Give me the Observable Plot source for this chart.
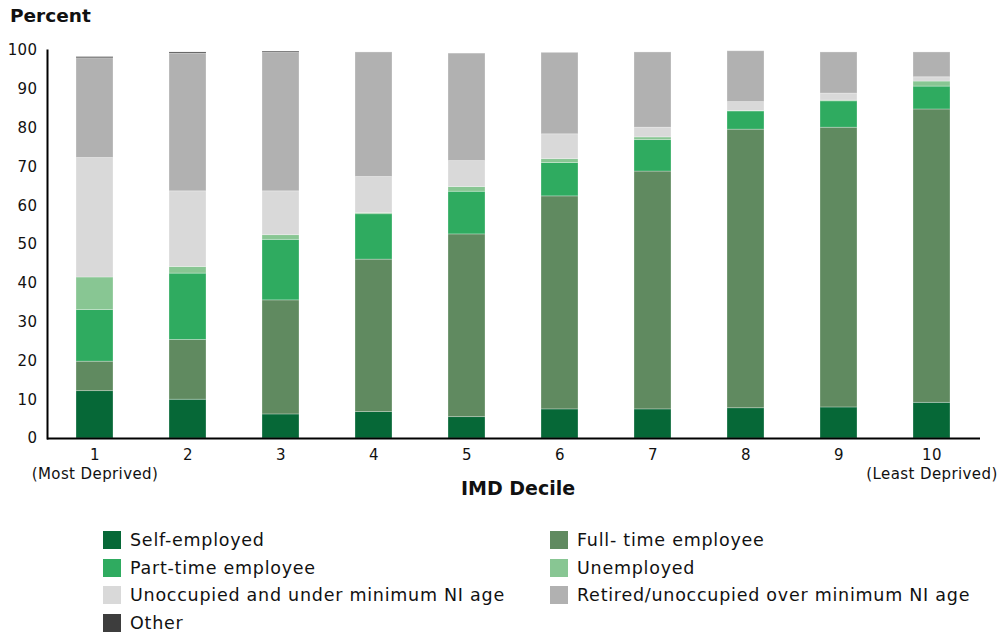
<!DOCTYPE html>
<html>
<head>
<meta charset="utf-8">
<script src="https://cdn.jsdelivr.net/npm/d3@7"></script>
<script src="https://cdn.jsdelivr.net/npm/@observablehq/plot@0.6"></script>
<style>
  html, body { margin: 0; padding: 0; background: #fff; }
  body { width: 1007px; height: 634px; position: relative; font-family: "DejaVu Sans", sans-serif; color: #111; overflow: hidden; }
  #title { position: absolute; left: 10px; top: 0; height: 32px; line-height: 32px; font-size: 18.5px; font-weight: bold; }
  #chart { position: absolute; left: 0; top: 32px; }
  #xlabel { position: absolute; left: 518px; top: 477px; transform: translateX(-50%); font-size: 19px; font-weight: bold; white-space: nowrap; }
  .leg { position: absolute; display: flex; align-items: center; font-size: 17.5px; letter-spacing: 0.75px; white-space: nowrap; }
  .sw { width: 18px; height: 18px; margin-right: 9px; flex: none; }
</style>
</head>
<body>
<div id="title">Percent</div>
<div id="chart"></div>
<div id="xlabel">IMD Decile</div>
<div id="legend"></div>
<script>
const deciles = ["1", "2", "3", "4", "5", "6", "7", "8", "9", "10"];
const xTickLabels = ["1\n(Most Deprived)", "2", "3", "4", "5", "6", "7", "8", "9", "10\n(Least Deprived)"];
const yTicks = [0, 10, 20, 30, 40, 50, 60, 70, 80, 90, 100];

const seriesNames = [
  "Self-employed",
  "Full- time employee",
  "Part-time employee",
  "Unemployed",
  "Unoccupied and under minimum NI age",
  "Retired/unoccupied over minimum NI age",
  "Other"
];
const seriesColors = ["#066837", "#608a60", "#2fab60", "#88c693", "#d9d9d9", "#b1b1b1", "#3d3d3d"];

const selfEmployed = [12.2, 10.0, 6.2, 6.8, 5.5, 7.5, 7.5, 7.8, 8.0, 9.2];
const fullTime     = [7.6, 15.4, 29.4, 39.3, 47.1, 54.9, 61.3, 71.8, 72.1, 75.6];
const partTime     = [13.3, 17.1, 15.6, 11.7, 11.0, 8.6, 8.1, 4.7, 6.8, 5.9];
const unemployed   = [8.4, 1.7, 1.2, 0.3, 1.2, 1.0, 0.7, 0.1, 0.2, 1.3];
const underNIAge   = [30.8, 19.5, 11.3, 9.3, 6.7, 6.4, 2.5, 2.3, 1.8, 1.1];
const retiredOver  = [25.7, 35.5, 35.7, 32.1, 27.7, 21.0, 19.4, 13.1, 10.6, 6.4];
const other        = [0.3, 0.3, 0.3, 0, 0, 0, 0, 0, 0, 0];

const seriesValues = [selfEmployed, fullTime, partTime, unemployed, underNIAge, retiredOver, other];

const table = [];
deciles.forEach((d, i) => {
  seriesNames.forEach((s, j) => {
    table.push({decile: d, series: s, value: seriesValues[j][i]});
  });
});

const tickMap = new Map(deciles.map((d, i) => [d, xTickLabels[i]]));

const plot = Plot.plot({
  width: 1007,
  height: 473,
  marginTop: 18,
  marginBottom: 67,
  marginLeft: 47,
  marginRight: 27,
  style: {fontFamily: "DejaVu Sans, sans-serif", fontSize: "15px", letterSpacing: "0.4px", color: "#111", background: "transparent"},
  x: {domain: deciles, paddingInner: 0.6, paddingOuter: 0.3, label: null},
  y: {domain: [0, 100], label: null},
  color: {domain: seriesNames, range: seriesColors},
  marks: [
    Plot.barY(table, {
      x: "decile", y: "value", fill: "series",
      stroke: "white", strokeOpacity: 0.35, strokeWidth: 0.8
    }),
    Plot.axisY({ticks: yTicks, tickSize: 0, tickPadding: 10, label: null, fontSize: 15}),
    Plot.axisX({tickSize: 0, tickPadding: 8, label: null, tickFormat: d => tickMap.get(d), lineHeight: 1.28, fontSize: 15}),
    Plot.frame({anchor: "left", stroke: "black", strokeWidth: 2}),
    Plot.ruleY([0], {stroke: "black", strokeWidth: 2})
  ]
});
document.getElementById("chart").appendChild(plot);

// Legend
const legend = document.getElementById("legend");
const colX = [103, 550];
const rowY = [531, 558.5, 586, 613.5];
seriesNames.forEach((s, i) => {
  const col = i % 2, row = Math.floor(i / 2);
  const el = document.createElement("div");
  el.className = "leg";
  el.style.left = colX[col] + "px";
  el.style.top = rowY[row] + "px";
  el.style.height = "18px";
  const sw = document.createElement("div");
  sw.className = "sw";
  sw.style.background = seriesColors[i];
  const tx = document.createElement("span");
  tx.textContent = s;
  el.appendChild(sw);
  el.appendChild(tx);
  legend.appendChild(el);
});
</script>
</body>
</html>
